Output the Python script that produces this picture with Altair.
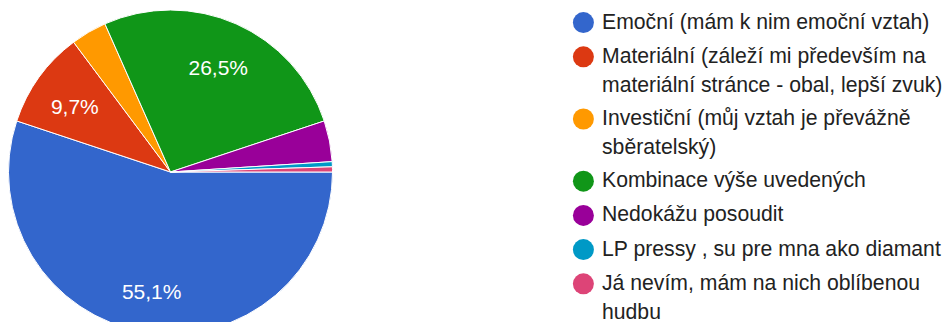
import math
import altair as alt
import pandas as pd

categories = [
    "Emoční (mám k nim emoční vztah)",
    "Materiální (záleží mi především na\nmateriální stránce - obal, lepší zvuk)",
    "Investiční (můj vztah je převážně\nsběratelský)",
    "Kombinace výše uvedených",
    "Nedokážu posoudit",
    "LP pressy , su pre mna ako diamant",
    "Já nevím, mám na nich oblíbenou\nhudbu",
]
counts = [108, 19, 7, 52, 8, 1, 1]
colors = ["#3366cc", "#dc3912", "#ff9900", "#109618", "#990099", "#0099c6", "#dd4477"]

df = pd.DataFrame({"cat": categories, "count": counts, "idx": list(range(len(categories)))})

start = math.pi / 2

base = (
    alt.Chart(df)
    .transform_joinaggregate(total="sum(count)")
    .transform_calculate(pct="datum.count / datum.total * 100")
    .transform_calculate(
        lbl="datum.pct >= 5 ? replace(format(datum.pct, '.1f'), '.', ',') + '%' : ''"
    )
    .encode(
        theta=alt.Theta("count:Q", stack=True,
                        scale=alt.Scale(range=[start, start + 2 * math.pi])),
        order=alt.Order("idx:Q", sort="ascending"),
        detail="cat:N",
        x=alt.value(162.5),
        y=alt.value(164),
    )
)

arcs = base.mark_arc(radius=162, stroke="white", strokeWidth=1).encode(
    color=alt.Color(
        "cat:N",
        sort=categories,
        scale=alt.Scale(domain=categories, range=colors),
        legend=alt.Legend(
            title=None,
            orient="none",
            legendX=564.8,
            legendY=4,
            padding=0,
            symbolType="circle",
            symbolSize=441,
            symbolStrokeWidth=0,
            symbolOpacity=1,
            labelFont="Liberation Sans",
            labelFontSize=21.2,
            labelColor="#222222",
            labelLimit=700,
            labelOffset=8,
            rowPadding=11.2,
            labelExpr="split(datum.label, '\\n')",
        ),
    )
)

labels = base.mark_text(
    radius=118, fontSize=21, font="Liberation Sans", color="white", dy=5
).encode(text="lbl:N")

chart = (
    alt.layer(arcs, labels)
    .properties(width=936, height=314, padding=0,
                autosize=alt.AutoSizeParams(type="none"))
    .configure(
        view={"stroke": "transparent", "strokeWidth": 0},
        style={"guide-label": {"lineHeight": 29}},
    )
)

chart.save("out.html", embed_options={"renderer": "svg", "actions": False})
